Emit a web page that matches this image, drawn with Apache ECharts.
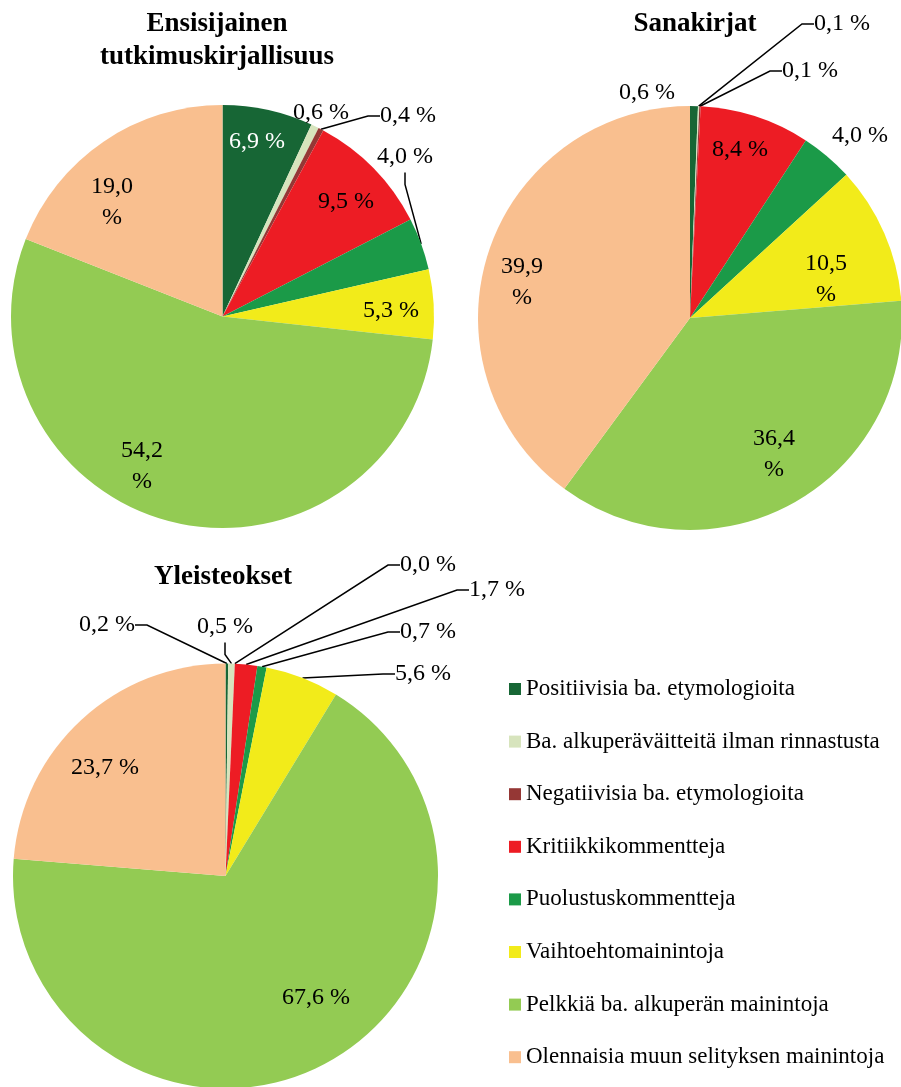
<!DOCTYPE html>
<html>
<head>
<meta charset="utf-8">
<script src="https://cdn.jsdelivr.net/npm/echarts@6/dist/echarts.min.js"></script>
<style>
html,body{margin:0;padding:0;background:#fff;}
#main{width:901px;height:1087px;}
</style>
</head>
<body>
<div id="main"></div>
<script>
// luokat (legendan järjestys = siivujen järjestys)
var categories = [
    'Positiivisia ba. etymologioita',
    'Ba. alkuperäväitteitä ilman rinnastusta',
    'Negatiivisia ba. etymologioita',
    'Kritiikkikommentteja',
    'Puolustuskommentteja',
    'Vaihtoehtomainintoja',
    'Pelkkiä ba. alkuperän mainintoja',
    'Olennaisia muun selityksen mainintoja'
];
var titles = ['Ensisijainen\ntutkimuskirjallisuus', 'Sanakirjat', 'Yleisteokset'];
var tutkimusValues = [6.9, 0.6, 0.4, 9.5, 4.0, 5.3, 54.2, 19.0];
var sanakirjaValues = [0.6, 0.1, 0.1, 8.4, 4.0, 10.5, 36.4, 39.9];
var yleisValues = [0.2, 0.5, 0.0, 1.7, 0.7, 5.6, 67.6, 23.7];

var colors = ['#176635', '#d7e4bd', '#953735', '#ed1c24', '#1b9a48', '#f2eb1a', '#93cb53', '#f9bf8f'];
var FONT = 'Liberation Serif';

// pie geometry
var pies = [
    {center: [222.5, 316.5], radius: 211.5, title: [217, 8]},
    {center: [690, 318], radius: 212, title: [695, 7.5]},
    {center: [225.5, 876], radius: 212.5, title: [223, 560.5]}
];

// label placement (centre of text), line = leader line, wrap = "%" on its own row
var labelPos = [
    [
        {x: 257, y: 142, color: '#fff'},
        {x: 321, y: 113},
        {x: 408, y: 116, line: true},
        {x: 346, y: 202},
        {x: 405, y: 157, line: true},
        {x: 391, y: 311},
        {x: 142, y: 466, wrap: true},
        {x: 112, y: 202, wrap: true}
    ],
    [
        {x: 647, y: 93},
        {x: 842, y: 24, line: true},
        {x: 810, y: 71, line: true},
        {x: 740, y: 150},
        {x: 860, y: 136},
        {x: 826, y: 279, wrap: true},
        {x: 774, y: 454, wrap: true},
        {x: 522, y: 282, wrap: true}
    ],
    [
        {x: 107, y: 625, line: true},
        {x: 225, y: 627, line: true},
        {x: 428, y: 565, line: true},
        {x: 497, y: 590, line: true},
        {x: 428, y: 632, line: true},
        {x: 423, y: 674, line: true},
        {x: 316, y: 998},
        {x: 105, y: 768}
    ]
];

function fmt(v) {
    return v.toFixed(1).replace('.', ',');
}

function buildSeries(values, idx) {
    var data = [];
    for (var i = 0; i < values.length; i++) {
        var lp = labelPos[idx][i];
        data.push({
            name: categories[i],
            value: values[i],
            itemStyle: {color: colors[i]},
            label: {color: lp.color || '#000'},
            labelLine: {show: !!lp.line}
        });
    }
    return {
        type: 'pie',
        center: pies[idx].center,
        radius: pies[idx].radius,
        startAngle: 90,
        clockwise: true,
        avoidLabelOverlap: false,
        itemStyle: {borderWidth: 0},
        label: {
            show: true,
            position: 'outside',
            fontFamily: FONT,
            fontSize: 24,
            lineHeight: 31,
            formatter: function (p) {
                var lp = labelPos[idx][p.dataIndex];
                return fmt(p.value) + (lp.wrap ? '\n%' : ' %');
            }
        },
        labelLine: {
            length: 10,
            length2: 12,
            lineStyle: {color: '#000', width: 1.5}
        },
        labelLayout: function (params) {
            var lp = labelPos[idx][params.dataIndex];
            return {x: lp.x, y: lp.y, align: 'center', verticalAlign: 'middle'};
        },
        emphasis: {disabled: true},
        data: data
    };
}

var chart = echarts.init(document.getElementById('main'));
var option = {
    animation: false,
    backgroundColor: '#fff',
    title: titles.map(function (t, i) {
        return {
            text: t,
            left: pies[i].title[0],
            top: pies[i].title[1],
            textAlign: 'center',
            padding: 0,
            textStyle: {fontFamily: FONT, fontWeight: 'bold', fontSize: 27, lineHeight: 33, color: '#000'}
        };
    }),
    legend: {
        data: categories,
        orient: 'vertical',
        left: 509,
        top: 677,
        padding: 0,
        itemWidth: 12,
        itemHeight: 12,
        itemGap: 28.6,
        icon: 'rect',
        selectedMode: false,
        textStyle: {fontFamily: FONT, fontSize: 23, lineHeight: 24, color: '#000'}
    },
    series: [
        buildSeries(tutkimusValues, 0),
        buildSeries(sanakirjaValues, 1),
        buildSeries(yleisValues, 2)
    ]
};
chart.setOption(option);
</script>
</body>
</html>
